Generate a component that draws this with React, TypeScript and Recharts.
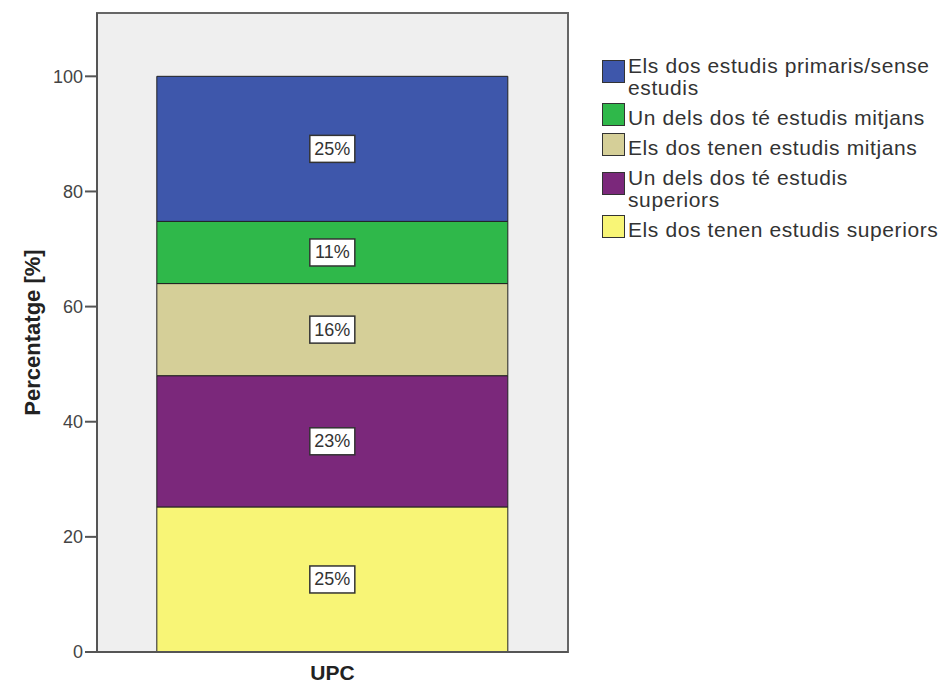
import { Bar, BarChart, CartesianGrid, LabelList, ReferenceArea, XAxis, YAxis } from 'recharts'

const categories = ['UPC']
const seriesNames = [
  'Els dos tenen estudis superiors',
  'Un dels dos té estudis superiors',
  'Els dos tenen estudis mitjans',
  'Un dels dos té estudis mitjans',
  'Els dos estudis primaris/sense estudis',
]
const dosSuperiors = [25.2]
const unSuperiors = [22.8]
const dosMitjans = [16.0]
const unMitjans = [10.8]
const dosPrimaris = [25.2]
const yTicks = [0, 20, 40, 60, 80, 100]

const colors = ['#f8f576', '#7b287b', '#d5cf98', '#2fb84a', '#3e57ab']
const keys = ['s1', 's2', 's3', 's4', 's5']

const data = categories.map((name, i) => ({
  name,
  s1: dosSuperiors[i],
  s2: unSuperiors[i],
  s3: dosMitjans[i],
  s4: unMitjans[i],
  s5: dosPrimaris[i],
}))

// legend lines as wrapped in the original
const legendLines = [
  ['Els dos estudis primaris/sense', 'estudis'],
  ['Un dels dos té estudis mitjans'],
  ['Els dos tenen estudis mitjans'],
  ['Un dels dos té estudis', 'superiors'],
  ['Els dos tenen estudis superiors'],
]

const font = 'Liberation Sans, Arial, sans-serif'

function ValueBox(props: any) {
  const { x, y, width, height, value } = props
  const cx = x + width / 2
  const cy = y + height / 2
  return (
    <g>
      <rect x={cx - 22.5} y={cy - 13.5} width={45} height={27} fill="#fff" stroke="#333" strokeWidth={1.5} />
      <text x={cx} y={cy + 6} textAnchor="middle" fontSize={18} fill="#333" fontFamily={font}>
        {Math.round(value)}%
      </text>
    </g>
  )
}

function LegendBox() {
  const order = [4, 3, 2, 1, 0]
  return (
    <div
      style={{
        position: 'absolute',
        left: 602,
        top: 55,
        fontFamily: font,
        fontSize: 21,
        lineHeight: '22px',
        letterSpacing: 0.6,
        color: '#333',
      }}
    >
      {order.map((idx, i) => {
        const lines = legendLines[i]
        return (
          <div key={seriesNames[idx]} style={{ display: 'flex', alignItems: 'flex-start', marginBottom: 8 }}>
            <div
              style={{
                width: 21,
                height: 21,
                background: colors[idx],
                border: '1px solid #333',
                marginTop: lines.length > 1 ? 5 : -4,
                marginRight: 3,
                flexShrink: 0,
              }}
            />
            <div style={{ whiteSpace: 'nowrap' }}>
              {lines.map((l) => (
                <div key={l}>{l}</div>
              ))}
            </div>
          </div>
        )
      })}
    </div>
  )
}

export default function App() {
  return (
    <div style={{ position: 'absolute', left: 0, top: 0, width: 950, height: 685, background: '#fff' }}>
      <BarChart
        width={950}
        height={685}
        data={data}
        margin={{ top: 13, right: 382, bottom: 0, left: 0 }}
        barCategoryGap="12.7%"
      >
        <CartesianGrid horizontal={false} vertical={false} fill="#efefef" />
        <ReferenceArea y1={0} y2={111} fill="#efefef" fillOpacity={1} stroke="#666" strokeWidth={2} ifOverflow="visible" />
        <XAxis
          dataKey="name"
          height={33}
          axisLine={{ stroke: '#555', strokeWidth: 2 }}
          tickLine={false}
          tickMargin={7}
          tick={{ fontSize: 21, fontWeight: 'bold', fill: '#222', fontFamily: font }}
        />
        <YAxis
          width={97}
          domain={[0, 111]}
          ticks={yTicks}
          tickSize={12}
          axisLine={{ stroke: '#555', strokeWidth: 2 }}
          tickLine={{ stroke: '#555', strokeWidth: 2 }}
          tick={{ fontSize: 18, fill: '#444', fontFamily: font }}
          label={{
            value: 'Percentatge [%]',
            content: (p: any) => {
              const vb = p.viewBox
              const cy = vb.y + vb.height / 2
              return (
                <text
                  x={40}
                  y={cy}
                  transform={`rotate(-90, 40, ${cy})`}
                  textAnchor="middle"
                  fontSize={22}
                  fontWeight="bold"
                  fill="#222"
                  fontFamily={font}
                >
                  Percentatge [%]
                </text>
              )
            },
          }}
        />
        {keys.map((k, i) => (
          <Bar key={k} dataKey={k} name={seriesNames[i]} stackId="a" fill={colors[i]} stroke="#222" strokeWidth={1} isAnimationActive={false}>
            <LabelList dataKey={k} content={ValueBox} />
          </Bar>
        ))}
      </BarChart>
      <LegendBox />
    </div>
  )
}
